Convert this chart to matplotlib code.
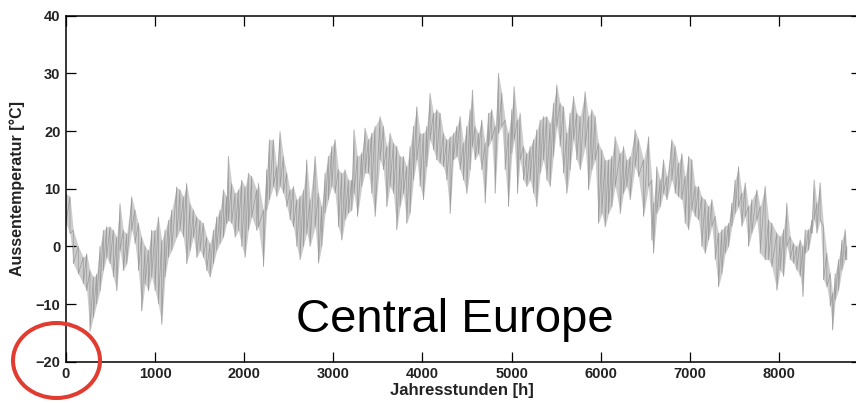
"""Hourly outdoor temperature over one year (Central Europe), redrawn from a scan."""
import matplotlib
matplotlib.use("Agg")
import matplotlib.pyplot as plt
import numpy as np
from matplotlib.patches import Ellipse
from matplotlib.transforms import IdentityTransform

# Band of the hourly trace: hour of year, upper and lower edge [°C]
hours = [
    0, 45, 82, 138, 194, 232, 269, 307, 344, 382, 419, 456, 494, 531, 569, 606,
    643, 681, 737, 774, 812, 849, 887, 924, 961, 999, 1036, 1074, 1111, 1149,
    1186, 1242, 1279, 1317, 1354, 1392, 1429, 1467, 1504, 1541, 1579, 1616,
    1654, 1691, 1728, 1766, 1803, 1822, 1859, 1897, 1934, 1972, 2009, 2046,
    2084, 2140,
    2159, 2215, 2252, 2282, 2327, 2364, 2402, 2439, 2477, 2514, 2551, 2589,
    2626, 2664, 2701, 2738, 2795, 2832, 2869, 2907, 2944, 2982, 3019, 3056,
    3094, 3131, 3169, 3206, 3232, 3270, 3318, 3356, 3393, 3430, 3468, 3524,
    3561, 3599, 3636, 3674, 3711, 3748, 3786, 3823, 3861, 3898, 3936, 3973,
    4010, 4048, 4085, 4123, 4160, 4197,
    4235, 4272, 4310, 4347, 4385, 4422, 4459, 4497, 4534, 4560, 4590, 4628,
    4665, 4703, 4740, 4777, 4815, 4852, 4890, 4927, 4964, 5002, 5028, 5065,
    5095, 5133, 5170, 5208, 5245, 5282, 5320, 5357, 5395, 5432, 5469, 5507,
    5544, 5582, 5619, 5656, 5694, 5731, 5769, 5825, 5862, 5900, 5937, 5974,
    6012, 6049, 6087, 6124, 6162, 6218, 6255, 6292,
    6330, 6386, 6424, 6480, 6536, 6573, 6592, 6629, 6667, 6704, 6742, 6798,
    6835, 6872, 6910, 6947, 6985, 7022, 7059, 7097, 7134, 7172, 7209, 7247,
    7284, 7321, 7359, 7396, 7434, 7471, 7508, 7546, 7583, 7621, 7658, 7695,
    7752, 7789, 7845, 7883, 7920, 7976, 8013, 8051, 8088, 8126, 8163, 8200,
    8238, 8268, 8294, 8331, 8369, 8395, 8425, 8462, 8500, 8537, 8575, 8601,
    8631, 8668, 8706, 8743, 8760,
]
t_high = [
    9.2, 8.6, 2.8, 0.0, -1.9, -1.3, -4.2, -5.3, -4.8, 0.0, 2.8, 3.4, 3.4, 2.8,
    1.6, 7.4, 2.8, 2.2, 8.6, 6.3, 4.0, 1.6, 0.0, -0.7, 2.8, 2.8, 5.1, 1.0, 2.8,
    4.5, 6.3, 10.3, 9.8, 8.6, 10.9, 7.4, 6.3, 5.1, 4.5, 4.0, 1.6, 0.5, 2.8, 5.1,
    6.3, 9.8, 8.6, 15.6, 10.9, 9.2, 9.8, 11.5, 10.3, 12.7, 12.1, 9.8,
    10.9, 6.3, 13.3, 18.5, 18.5, 13.8, 19.9, 15.6, 12.7, 9.8, 10.4, 8.1, 8.7,
    9.8, 15.0, 8.1, 15.6, 9.2, 6.9, 12.7, 15.6, 17.3, 18.5, 13.3, 12.7, 13.3,
    11.5, 11.5, 20.2, 15.6, 16.2, 20.5, 18.5, 19.6, 20.8, 22.5, 20.8, 17.3,
    19.6, 17.9, 17.3, 15.6, 15.6, 13.8, 17.3, 20.8, 24.2, 19.6, 19.6, 20.8,
    26.5, 23.1, 23.7, 23.1,
    19.6, 18.5, 19.0, 19.6, 20.8, 22.5, 17.9, 20.8, 23.7, 27.1, 20.8, 19.6,
    21.9, 17.9, 23.1, 23.7, 20.8, 30.0, 26.5, 21.9, 19.6, 23.7, 27.7, 21.9,
    23.1, 17.3, 16.1, 17.3, 18.5, 20.2, 21.9, 22.5, 22.5, 21.3, 24.8, 28.0,
    24.8, 24.2, 19.6, 23.1, 26.0, 23.1, 22.5, 26.8, 22.5, 23.7, 22.5, 17.9,
    16.7, 15.0, 15.0, 15.6, 19.0, 16.1, 17.3, 15.0,
    15.6, 20.2, 18.5, 15.0, 19.0, 11.5, 7.5, 13.8, 11.5, 15.0, 12.1, 18.5,
    17.3, 14.4, 16.1, 12.1, 15.6, 15.0, 10.4, 10.4, 8.6, 8.1, 6.9, 8.1, 5.2,
    2.3, 2.9, 3.5, 4.0, 7.5, 11.5, 13.8, 9.2, 11.0, 6.9, 8.1, 9.8, 6.9, 10.4,
    4.6, 4.0, 2.3, 1.7, 2.9, 7.5, 1.7, 0.5, 0.0, 1.1, 0.0, 2.9, 2.9, 4.6,
    11.5, 7.5, 11.0, 3.5, -1.2, -4.7, -8.1, -4.7, -2.3, 1.1, 2.9, 0.0,
]
t_low = [
    4.0, 2.2, -3.0, -4.8, -6.5, -7.7, -14.7, -12.3, -10.0, -7.7, -4.2, -1.9,
    -3.0, -5.3, -7.7, -0.7, -4.2, -3.0, 2.8, 0.5, -4.2, -11.2, -6.5, -7.7,
    -5.3, -7.7, -10.0, -13.5, -5.3, -1.9, -0.7, 1.6, 2.8, 1.6, -3.0, -0.7, 1.6,
    -1.9, -0.7, -1.9, -4.2, -5.3, -3.0, -0.7, 0.5, 1.6, 4.0, 4.5, 4.0, 1.6,
    2.8, 0.0, -1.9, 2.8, 5.1, 2.8,
    3.4, -3.5, 6.3, 8.1, 10.4, 8.7, 10.4, 9.2, 6.9, 4.6, 3.4, 0.0, -2.3, 0.0,
    2.3, 0.0, 3.4, -2.9, 0.0, 5.8, 8.1, 10.4, 9.2, 3.4, 1.1, 4.6, 5.8, 6.3,
    9.2, 5.2, 10.4, 12.7, 12.7, 9.2, 5.2, 15.0, 13.3, 6.9, 10.4, 9.2, 2.9, 6.9,
    9.2, 4.0, 5.8, 11.5, 15.0, 10.4, 8.1, 13.8, 18.5, 16.7, 15.0, 14.4,
    13.8, 11.5, 5.7, 15.0, 15.6, 13.3, 11.5, 9.2, 13.3, 17.3, 15.0, 16.1,
    13.3, 7.5, 17.3, 18.5, 9.2, 19.6, 20.8, 13.3, 6.9, 16.1, 18.5, 9.2, 15.0,
    11.5, 10.4, 11.5, 9.2, 6.9, 12.7, 15.0, 11.5, 10.4, 15.6, 20.8, 17.3,
    12.7, 9.2, 13.3, 18.5, 15.0, 13.3, 17.3, 9.8, 13.3, 15.0, 4.0, 5.7, 3.4,
    5.7, 6.9, 10.4, 5.7, 9.2, 10.4,
    8.1, 13.8, 12.1, 5.2, 10.4, 1.1, -1.2, 5.7, 6.9, 9.2, 8.1, 11.5, 9.2, 8.6,
    8.1, 4.0, 2.9, 6.3, 5.2, 4.6, 0.0, -1.2, 1.1, 3.5, -2.3, -7.0, -4.7, -1.2,
    0.0, 3.5, 5.7, 6.9, 3.5, 5.2, 0.0, 2.3, 4.6, -1.2, -2.3, -2.3, -3.5, -7.6,
    -4.1, -5.2, 0.0, -2.3, -2.9, -4.1, -5.2, -8.7, -1.2, -0.6, 2.3, 4.6, 2.3,
    4.6, -5.8, -7.0, -10.4, -14.5, -9.3, -7.6, -4.1, -2.3, -2.3,
]

x_ticks = [0, 1000, 2000, 3000, 4000, 5000, 6000, 7000, 8000]
y_ticks = [-20, -10, 0, 10, 20, 30, 40]

plt.rcParams["font.family"] = ["Liberation Sans", "DejaVu Sans"]

fig = plt.figure(figsize=(8.56, 4.03), dpi=100)
ax = fig.add_axes([0.0771, 0.1025, 0.9287, 0.8586])

h = np.asarray(hours, dtype=float)
hi = np.asarray(t_high)
lo = np.asarray(t_low)

# light band, then the hour-to-hour swings as vertical strokes
ax.fill_between(h, lo, hi, color="#cdcdcd", linewidth=0)
xs = np.repeat(h, 2)
ys = np.column_stack([hi, lo]).ravel()
ax.plot(xs, ys, color="#9c9c9c", linewidth=0.55)

ax.set_xlim(0, 8920)
ax.set_ylim(-20, 40)
ax.set_xticks(x_ticks)
ax.set_yticks(y_ticks)
ax.tick_params(direction="in", length=7, width=0.9, top=True, right=True,
               labelsize=10.5, labelcolor="#222222", pad=4)
for lab in ax.get_xticklabels() + ax.get_yticklabels():
    lab.set_fontweight("bold")
for sp in ax.spines.values():
    sp.set_linewidth(1.1)

ax.set_xlabel("Jahresstunden [h]", fontsize=12, fontweight="bold", color="#222222")
ax.set_ylabel("Aussentemperatur [°C]", fontsize=11.5, fontweight="bold", color="#222222")
ax.xaxis.set_label_coords(0.498, -0.063)
ax.yaxis.set_label_coords(-0.052, 0.5)

fig.text(296 / 856, 1 - 332 / 403, "Central Europe", fontsize=34,
         color="black", va="baseline", ha="left")

# red circle around the -20 corner
fig.add_artist(Ellipse((56.5, 403 - 360.5), 87, 75, transform=IdentityTransform(),
                       fill=False, edgecolor="#e23b30", linewidth=2.9))

fig.savefig("out.png", dpi=100)
